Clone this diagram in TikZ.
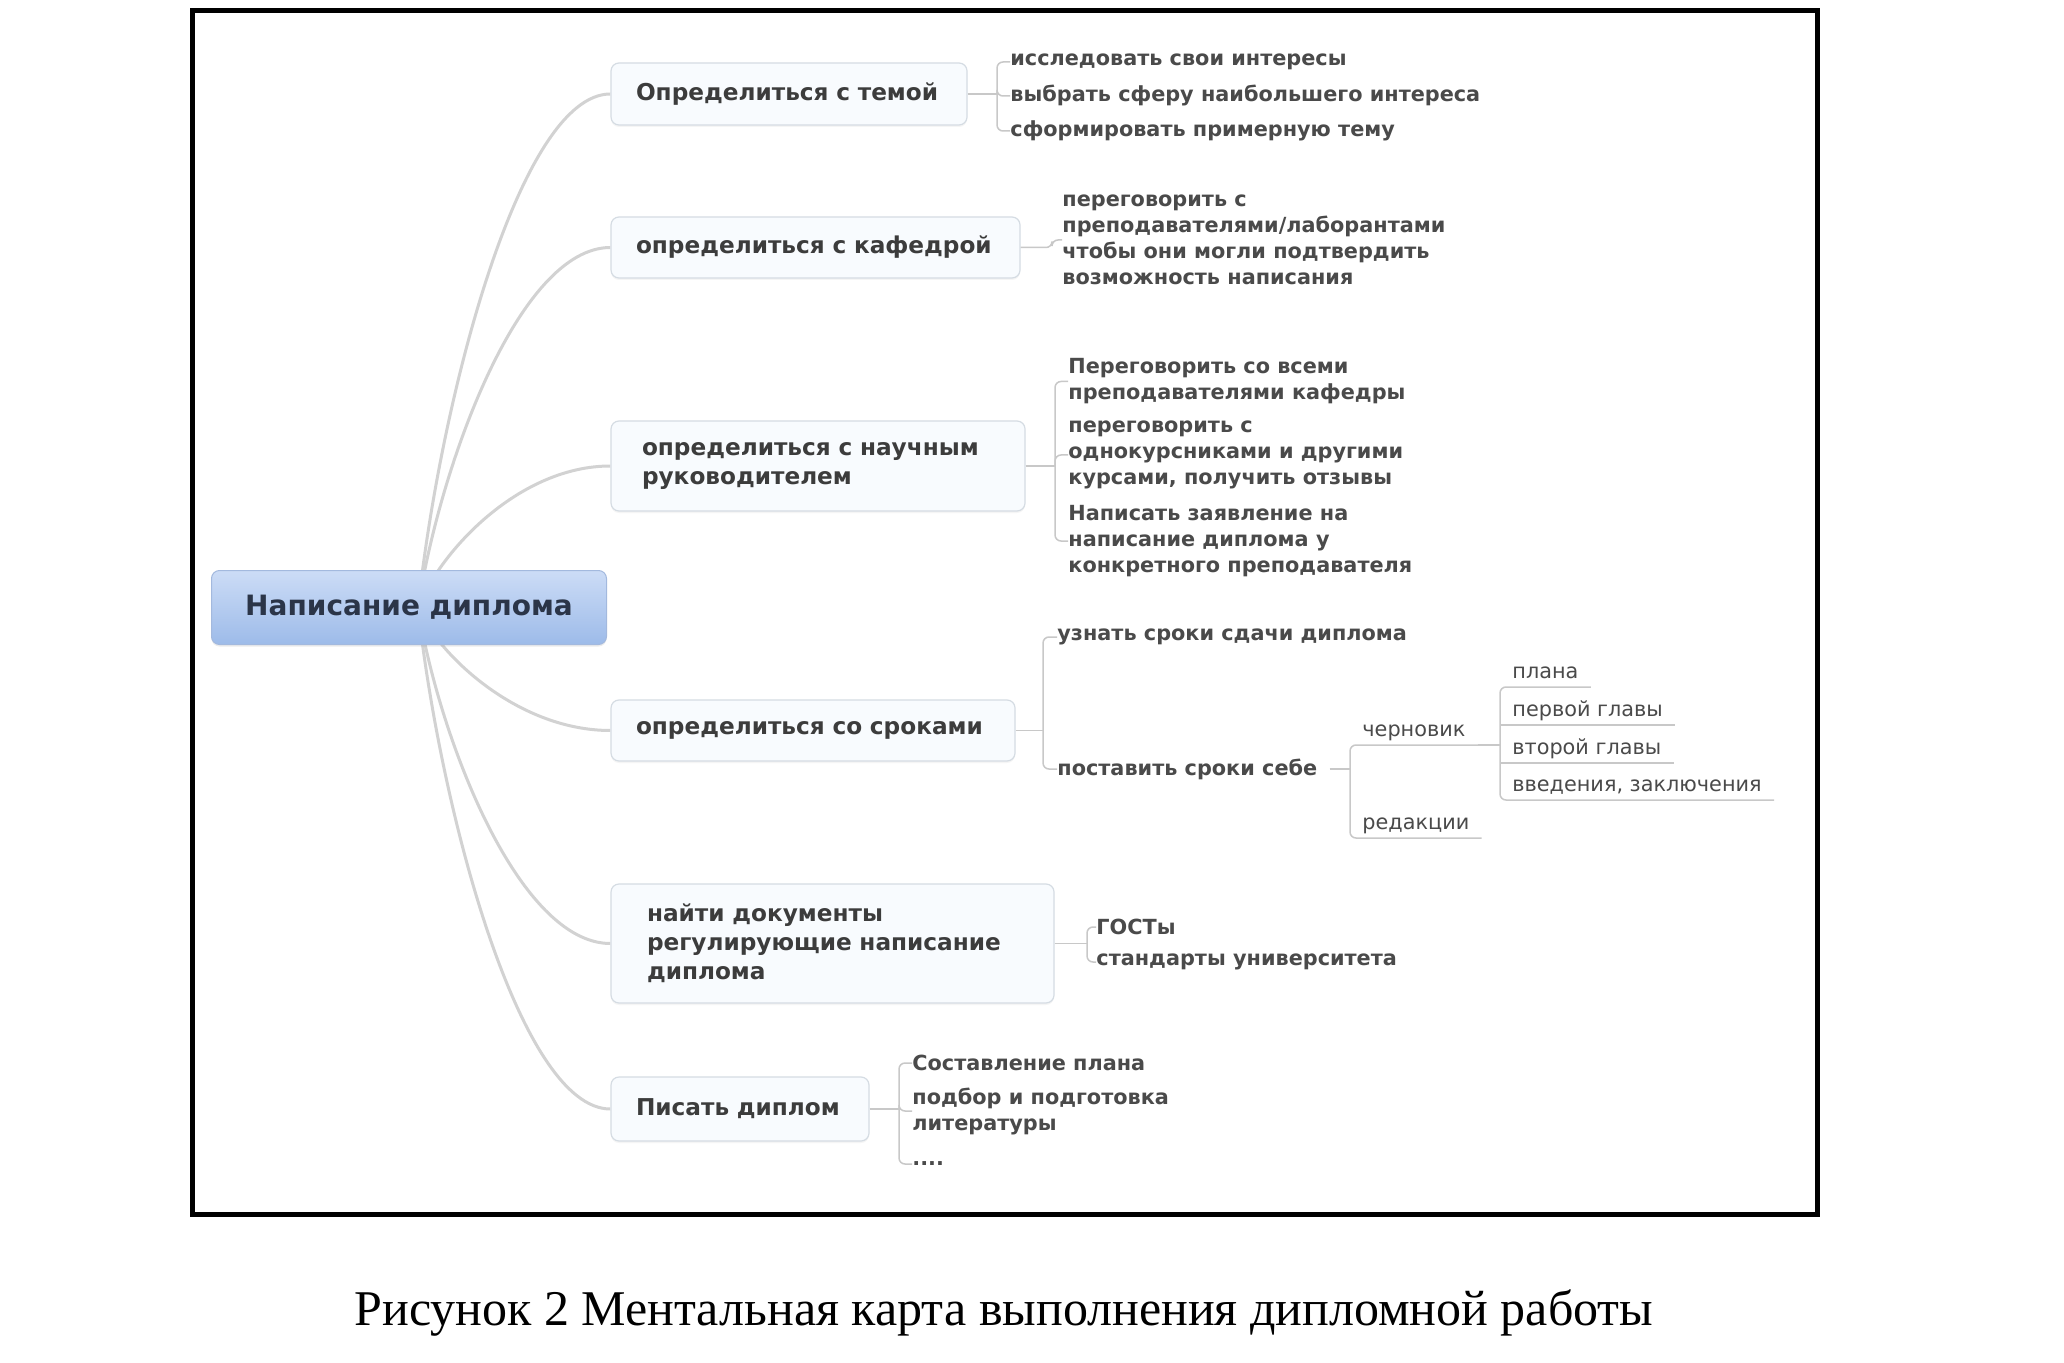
\documentclass[tikz,border=0pt]{standalone}
\usepackage{fontspec}
\setmainfont{Liberation Serif}
\newfontfamily\mapfont{DejaVu Sans}
\usetikzlibrary{shadows,backgrounds}
\definecolor{rootTop}{HTML}{CCDCF6}
\definecolor{rootBot}{HTML}{9DBBE9}
\definecolor{rootBorder}{HTML}{A3B9DE}
\definecolor{rootText}{HTML}{2B3548}
\definecolor{topicFill}{HTML}{F8FBFE}
\definecolor{topicBorder}{HTML}{D5DCE3}
\definecolor{branchGray}{HTML}{D2D2D2}
\definecolor{lineGray}{HTML}{C8C8C8}
\definecolor{textDark}{HTML}{3C3C3C}
\definecolor{textSub}{HTML}{4A4A4A}
\begin{document}
\begin{tikzpicture}[x=0.5pt, y=-0.5pt,
    root/.style={rounded corners=4pt, top color=rootTop, bottom color=rootBot,
      draw=rootBorder, line width=0.5pt, minimum width=197.5pt, minimum height=37pt,
      drop shadow={shadow xshift=0pt, shadow yshift=-1pt, opacity=0.15},
      font=\mapfont\bfseries\fontsize{14}{16}\selectfont, text=rootText},
    topic/.style={rounded corners=4pt, fill=topicFill, draw=topicBorder, line width=0.6pt,
      drop shadow={shadow xshift=0pt, shadow yshift=-1pt, opacity=0.08},
      align=left, inner xsep=12.5pt, inner ysep=0pt,
      font=\mapfont\bfseries\fontsize{11.6}{14.5}\selectfont, text=textDark},
    item/.style={anchor=west, inner sep=0pt, align=left,
      font=\mapfont\bfseries\fontsize{10.4}{13}\selectfont, text=textSub},
    leaf/.style={anchor=south west, inner xsep=6pt, inner ysep=2pt,
      text height=7.5pt, text depth=2pt,
      font=\mapfont\fontsize{10.4}{13}\selectfont, text=textSub},
    branch/.style={draw=branchGray, line width=1.5pt},
    bracket/.style={draw=lineGray, line width=0.75pt, rounded corners=3pt}]
  \useasboundingbox (0,0) rectangle (2064,1363);

  % frame
  \draw[line width=2.5pt] (192,11) rectangle (1817,1214);

  % central topic and main topics
  \node[root] (root) at (409,607.5) {Написание диплома};
  \coordinate (hub) at (418,608);
  \path
    (789,94) node[topic, minimum width=178pt, minimum height=31pt, text width=153pt] (t1)
      {Определиться с темой}
    (815.5,247.5) node[topic, minimum width=204.5pt, minimum height=30.5pt, text width=179.5pt] (t2)
      {определиться с кафедрой}
    (818,466) node[topic, minimum width=207pt, minimum height=45pt, inner xsep=15.5pt, text width=176pt] (t3)
      {определиться с научным\\руководителем}
    (813,730.5) node[topic, minimum width=202pt, minimum height=30.5pt, text width=177pt] (t4)
      {определиться со сроками}
    (832.5,943.5) node[topic, minimum width=221.5pt, minimum height=59.5pt, inner xsep=18pt, text width=185.5pt] (t5)
      {найти документы\\регулирующие написание\\диплома}
    (740,1109) node[topic, minimum width=129pt, minimum height=32pt, text width=104pt] (t6)
      {Писать диплом};

  % subtopics
  \path
    (1010,62) node[item] (t1a) {исследовать свои интересы}
    (1010,96) node[item] (t1b) {выбрать сферу наибольшего интереса}
    (1010,131) node[item] (t1c) {сформировать примерную тему}
    (1062,240) node[item] (t2a) {переговорить с\\преподавателями/лаборантами\\чтобы они могли подтвердить\\возможность написания}
    (1068,381.5) node[item] (t3a) {Переговорить со всеми\\преподавателями кафедры}
    (1068,455) node[item] (t3b) {переговорить с\\однокурсниками и другими\\курсами, получить отзывы}
    (1068,541) node[item] (t3c) {Написать заявление на\\написание диплома у\\конкретного преподавателя}
    (1057,637) node[item] (t4a) {узнать сроки сдачи диплома}
    (1057,769) node[item] (t4b) {поставить сроки себе}
    (1096,927) node[item] (t5a) {ГОСТы}
    (1096,962) node[item] (t5b) {стандарты университета}
    (912,1063) node[item] (t6a) {Составление плана}
    (912,1111) node[item] (t6b) {подбор и подготовка\\литературы}
    (912,1164) node[item] (t6c) {....};
  \path
    (1350,745) node[leaf] (ch) {черновик}
    (1350,838) node[leaf] (rd) {редакции}
    (1500,687) node[leaf] (pl) {плана}
    (1500,725) node[leaf] (g1) {первой главы}
    (1500,763) node[leaf] (g2) {второй главы}
    (1500,800) node[leaf] (vz) {введения, заключения};

  \coordinate (j1) at (997,94);
  \coordinate (j2) at (1052,247.5);
  \coordinate (j3) at (1055,466);
  \coordinate (j4) at (1043,730.5);
  \coordinate (j5) at (1087,943.5);
  \coordinate (j6) at (899,1109);

  % curved branches behind the central topic
  \begin{scope}[on background layer]
    \fill[white] (0,0) rectangle (2064,1363);
    \draw[branch] (hub) .. controls +(22,-206) and +(-91,0) .. (t1.west);
    \draw[branch] (hub) .. controls +(22,-144) and +(-91,0) .. (t2.west);
    \draw[branch] (hub) .. controls +(22,-57) and +(-91,0) .. (t3.west);
    \draw[branch] (hub) .. controls +(22,49) and +(-91,0) .. (t4.west);
    \draw[branch] (hub) .. controls +(22,134) and +(-91,0) .. (t5.west);
    \draw[branch] (hub) .. controls +(22,200) and +(-91,0) .. (t6.west);
  \end{scope}

  \begin{scope}[bracket]
    \draw (t1.east) -- (j1);
    \draw (t1a.west) -| (j1) |- (t1c.west);
    \draw (j1) |- (t1b.west);
    \draw (t2.east) -- (j2) |- (t2a.west);
    \draw (t3.east) -- (j3);
    \draw (t3a.west) -| (j3) |- (t3c.west);
    \draw (j3) |- (t3b.west);
    \draw (t4.east) -- (j4);
    \draw (t4a.west) -| (j4) |- (t4b.west);
    \draw (t5.east) -- (j5);
    \draw (t5a.west) -| (j5) |- (t5b.west);
    \draw (t6.east) -- (j6);
    \draw (t6a.west) -| (j6) |- (t6c.west);
    \draw (j6) |- (t6b.west);
    \draw ([xshift=6pt]t4b.east) -- (t4b.east -| ch.south west);
    \draw (ch.south east) -- (ch.south west) -- (rd.south west) -- (rd.south east);
    \draw (ch.south east) -- (ch.south east -| pl.south west);
    \draw (pl.south east) -- (pl.south west) -- (vz.south west) -- (vz.south east);
    \draw (g1.south west) -- (g1.south east);
    \draw (g2.south west) -- (g2.south east);
  \end{scope}

  \node[font=\fontsize{25}{29}\selectfont] (cap) at (1004,1313)
    {Рисунок 2 Ментальная карта выполнения дипломной работы};
\end{tikzpicture}
\end{document}
